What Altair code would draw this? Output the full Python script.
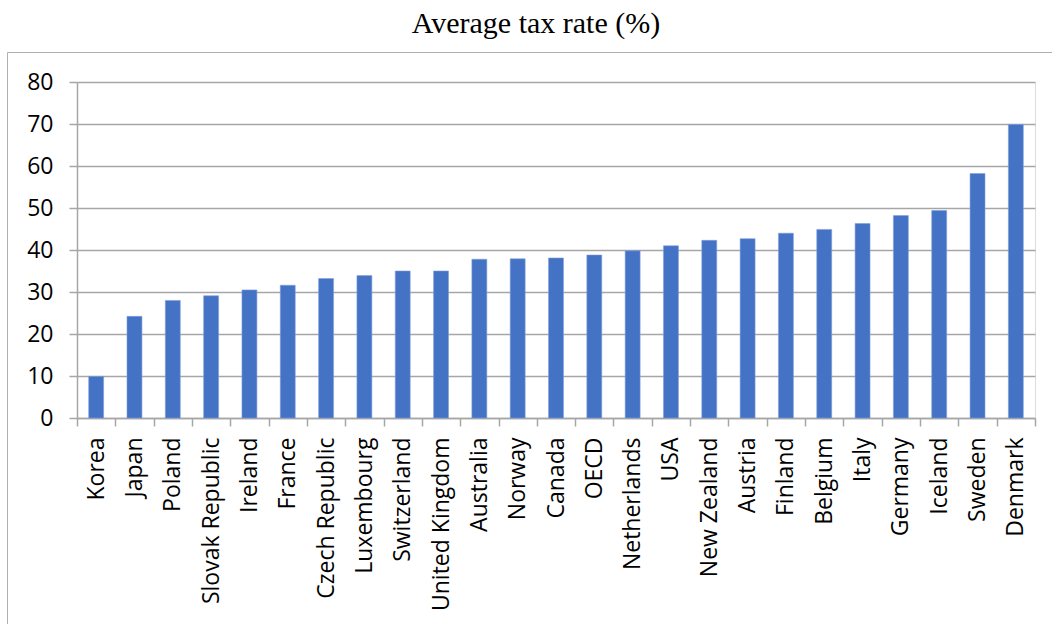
import altair as alt
import pandas as pd

countries = ["Korea", "Japan", "Poland", "Slovak Republic", "Ireland", "France",
             "Czech Republic", "Luxembourg", "Switzerland", "United Kingdom",
             "Australia", "Norway", "Canada", "OECD", "Netherlands", "USA",
             "New Zealand", "Austria", "Finland", "Belgium", "Italy", "Germany",
             "Iceland", "Sweden", "Denmark"]
rates = [9.9, 24.2, 28.0, 29.1, 30.5, 31.6, 33.2, 33.9, 35.0, 35.0, 37.8, 37.9,
         38.1, 38.8, 39.8, 41.0, 42.3, 42.7, 44.0, 44.9, 46.3, 48.2, 49.4, 58.2, 69.9]
y_ticks = [0, 10, 20, 30, 40, 50, 60, 70, 80]

df = pd.DataFrame({"country": countries, "rate": rates})

W, H = 958, 336
GRID = "#a6a6a6"

bars = alt.Chart(df).mark_bar(
    width=alt.RelativeBandSize(0.39), color="#4472C4",
    stroke="#7f9fdc", strokeWidth=0.6
).encode(
    x=alt.X("country:N", sort=countries,
            scale=alt.Scale(paddingInner=0, paddingOuter=0),
            axis=alt.Axis(title=None, labelAngle=-90, labelFont="Open Sans",
                          labelFontSize=23, labelColor="black", labelPadding=11,
                          labelAlign="right", labelBaseline="middle",
                          tickBand="extent", tickSize=8, tickColor=GRID,
                          tickWidth=1.5, domainColor=GRID, domainWidth=1.5,
                          grid=False, labelOverlap=False)),
    y=alt.Y("rate:Q", scale=alt.Scale(domain=[0, 80], nice=False),
            axis=alt.Axis(title=None, values=y_ticks, labelFont="Open Sans",
                          labelFontSize=23, labelColor="black", labelPadding=16,
                          tickSize=8, tickColor=GRID, tickWidth=1.5,
                          domainColor=GRID, domainWidth=1.5,
                          gridColor=GRID, gridWidth=1.5))
)

border = alt.Chart(pd.DataFrame({"a": [0]})).mark_rect(
    fill="transparent", stroke="#b0b0b0", strokeWidth=1
).encode(
    x=alt.value(-69.5), x2=alt.value(W + 60),
    y=alt.value(-29.5), y2=alt.value(H + 260)
)

chart = alt.layer(border, bars).properties(
    width=W, height=H,
    autosize=alt.AutoSizeParams(type="none"),
    padding={"left": 77, "top": 82, "right": 17, "bottom": 206},
    title=alt.Title("Average tax rate (%)", font="Liberation Serif", fontSize=30,
                    fontWeight="normal", color="black", anchor="middle",
                    dx=-20, offset=13)
).configure_view(stroke=None).configure(background="white")

chart.save("out.html", embed_options={"renderer": "svg", "actions": False})
